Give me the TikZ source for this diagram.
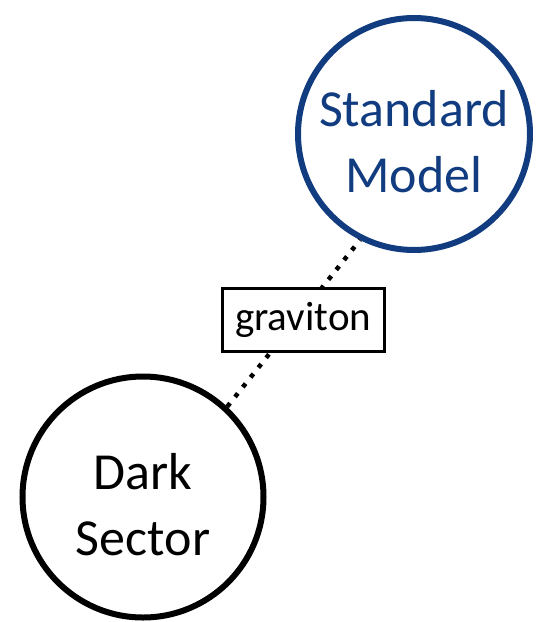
\documentclass[tikz,border=0pt]{standalone}
\usepackage{fontspec}
\setmainfont{Carlito}
\usetikzlibrary{positioning}
\definecolor{smblue}{RGB}{18,60,128}

\begin{document}
\begin{tikzpicture}[x=1pt,y=-1pt]
	\tikzstyle{sector} = [circle, draw = black, line width = 6pt, align = center, inner sep = 0pt, text height = 118pt, font = \fontsize{52}{66}\selectfont]
	\tikzstyle{mediator} = [rectangle, draw = black, solid, fill = white, line width = 3pt, inner xsep = 13pt, minimum height = 63pt, font = \fontsize{41}{48}\selectfont]
\useasboundingbox (0,0) rectangle (536,622);
\node[sector, minimum size = 232pt, draw = smblue, text = smblue] (sm) at (414,134) {Standard\\Model};
\node[sector, minimum size = 241pt] (ds) at (143,497) {Dark\\Sector};

	\draw[line width = 4.5pt, dash pattern = on 4.5pt off 8pt] (ds.47) -- node[mediator, pos = 0.52, xshift = 7pt] (grav) {graviton} (sm.243);
	\end{tikzpicture}
\end{document}
